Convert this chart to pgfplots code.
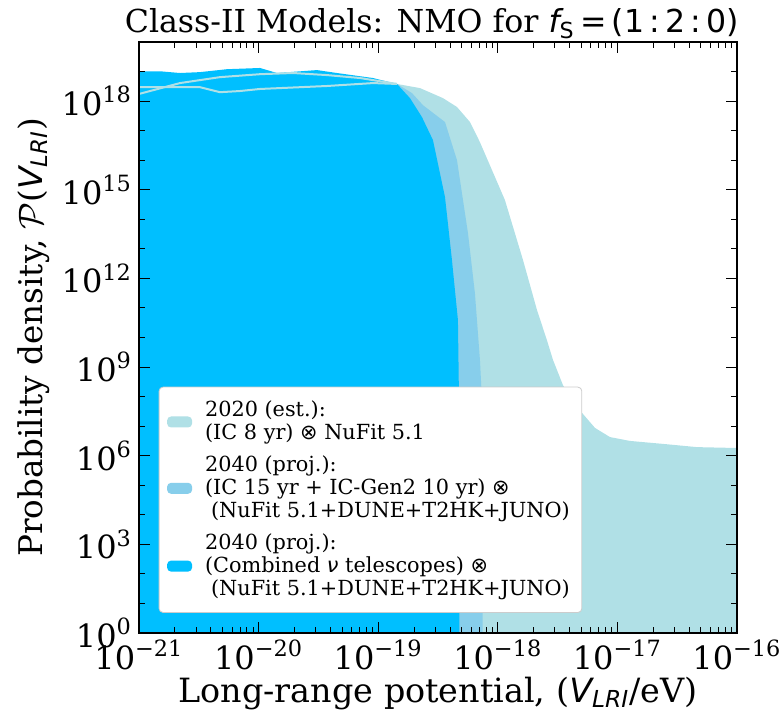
\documentclass[border=0pt]{standalone}
\usepackage{fontspec}
\setmainfont{DejaVu Serif}
\newfontfamily\djs{DejaVu Sans}
\usepackage{pgfplots}
\pgfplotsset{compat=1.18}
\definecolor{pb}{HTML}{B0E0E6}
\definecolor{sb}{HTML}{87CEEB}
\definecolor{dsb}{HTML}{00BFFF}
\begin{document}
\begin{tikzpicture}
\begin{axis}[
  width=299pt, height=295.5pt, scale only axis,
  xmode=log, ymode=log,
  xmin=1e-21, xmax=1e-16, ymin=1, ymax=1e20,
  axis on top,
  axis line style={line width=0.6pt},
  xtick={1e-21,1e-20,1e-19,1e-18,1e-17,1e-16},
  xticklabels={10\textsuperscript{−21},10\textsuperscript{−20},10\textsuperscript{−19},10\textsuperscript{−18},10\textsuperscript{−17},10\textsuperscript{−16}},
  minor xtick={2e-21,3e-21,4e-21,5e-21,6e-21,7e-21,8e-21,9e-21,
               2e-20,3e-20,4e-20,5e-20,6e-20,7e-20,8e-20,9e-20,
               2e-19,3e-19,4e-19,5e-19,6e-19,7e-19,8e-19,9e-19,
               2e-18,3e-18,4e-18,5e-18,6e-18,7e-18,8e-18,9e-18,
               2e-17,3e-17,4e-17,5e-17,6e-17,7e-17,8e-17,9e-17},
  ytick={1,1e3,1e6,1e9,1e12,1e15,1e18},
  yticklabels={10\textsuperscript{0},10\textsuperscript{3},10\textsuperscript{6},10\textsuperscript{9},10\textsuperscript{12},10\textsuperscript{15},10\textsuperscript{18}},
  minor ytick={10,100,1e4,1e5,1e7,1e8,1e10,1e11,1e13,1e14,1e16,1e17,1e19},
  tick align=inside,
  major tick length=5.5pt, minor tick length=2.8pt,
  every tick/.style={black, line width=0.5pt},
  tick label style={font=\fontsize{16}{16}\selectfont},
  xlabel style={font=\fontsize{16.7}{16.7}\selectfont, yshift=3pt},
  ylabel style={font=\fontsize{16.3}{16.3}\selectfont, yshift=-1pt},
  title style={font=\fontsize{15.8}{15.8}\selectfont, yshift=-8pt, xshift=-3pt},
  title={Class-II Models: NMO for {\djs\itshape f}\textsubscript{\djs S}{\djs\,=\,(1\,:\,2\,:\,0)}},
  xlabel={Long-range potential, ({\djs\itshape V\textsubscript{LRI}}/eV)},
  ylabel={Probability density, $\mathcal{P}$({\djs\itshape V\textsubscript{LRI}})},
  legend style={at={(0.033,0.034)}, anchor=south west, draw=black!20, rounded corners=2pt,
    fill=white, font=\fontsize{10.4}{11.5}\selectfont, inner xsep=4pt, inner ysep=5pt,
    row sep=2.5pt, cells={anchor=west, align=left}},
  legend image code/.code={\fill[#1] (0pt,-2.75pt) rectangle (12.5pt,2.75pt); \path (17pt,0pt);},
]
% 2020 (light)
\addplot[fill=pb, draw=none] coordinates {
(1e-21,1e-2) (1e-21,1.74e18) (2.203e-21,4.07e18) (4.753e-21,6.46e18) (1.028e-20,8.13e18)
(1.941e-20,8.91e18) (3.733e-20,7.59e18) (7.047e-20,6.03e18) (1.436e-19,3.80e18)
(2.239e-19,2.75e18) (3.483e-19,1.26e18) (4.560e-19,6.31e17) (5.861e-19,1.95e17)
(7.096e-19,4.07e16) (1.148e-18,4.47e14) (1.626e-18,4.17e12) (2.128e-18,8.51e10)
(2.576e-18,8.13e9) (2.897e-18,1.74e9) (3.508e-18,2.45e8) (4.018e-18,9.77e7)
(4.677e-18,4.07e7) (6.501e-18,8.71e6) (8.670e-18,4.27e6) (1.274e-17,3.16e6)
(2.404e-17,2.51e6) (4.634e-17,1.95e6) (1e-16,1.82e6) (1e-16,1e-2)
};
\addlegendentry{2020 (est.):\\(IC 8 yr) {\djs ⊗} NuFit 5.1}
% 2040 IC-Gen2 (mid)
\addplot[fill=sb, draw=none] coordinates {
(1e-21,1e-2) (1e-21,2.95e18) (3.236e-21,2.95e18) (4.753e-21,2.0e18) (6.982e-21,2.19e18)
(1.028e-20,2.57e18) (3.733e-20,3.24e18) (9.057e-20,4.07e18) (1.436e-19,3.80e18)
(1.919e-19,1.86e18) (2.371e-19,7.24e17) (3.622e-19,1.95e17) (4.560e-19,1e16)
(5.636e-19,3.39e13) (6.442e-19,3.16e11) (7.096e-19,1.74e9) (7.379e-19,7.59e7)
(7.516e-19,1e-2)
};
\addlegendentry{2040 (proj.):\\(IC 15 yr + IC-Gen2 10 yr) {\djs ⊗}\\\hspace*{3pt}(NuFit 5.1+DUNE+T2HK+JUNO)}
% 2040 combined (deep)
\addplot[fill=dsb, draw=none] coordinates {
(1e-21,1e-2) (1e-21,1.02e19) (1.500e-21,1.02e19) (2.203e-21,8.91e18) (3.236e-21,9.55e18)
(5.445e-21,1.20e19) (1.028e-20,1.32e19) (1.426e-20,8.91e18) (3.076e-20,1.12e19)
(4.529e-20,8.91e18) (9.057e-20,6.03e18) (1.436e-19,3.80e18) (1.845e-19,1.26e18)
(2.323e-19,2.88e17) (2.871e-19,4.79e16) (3.622e-19,5.62e14) (4.140e-19,4.17e12)
(4.645e-19,3.89e10) (4.742e-19,7.59e7) (4.786e-19,1e-2)
};
\addlegendentry{2040 (proj.):\\(Combined {\djs\itshape ν} telescopes) {\djs ⊗}\\\hspace*{3pt}(NuFit 5.1+DUNE+T2HK+JUNO)}
% outlines
\addplot[pb, line width=1pt, forget plot] coordinates {
(1e-21,1.74e18) (2.203e-21,4.07e18) (4.753e-21,6.46e18) (1.028e-20,8.13e18)
(1.941e-20,8.91e18) (3.733e-20,7.59e18) (7.047e-20,6.03e18) (1.436e-19,3.80e18)
};
\addplot[pb, line width=1pt, forget plot] coordinates {
(1e-21,2.95e18) (3.236e-21,2.95e18) (4.753e-21,2.0e18) (6.982e-21,2.19e18)
(1.028e-20,2.57e18) (3.733e-20,3.24e18) (9.057e-20,4.07e18) (1.436e-19,3.80e18)
};
\end{axis}
\pgfresetboundingbox
\path ([shift={(-69.5pt,-39.5pt)}]current axis.south west) rectangle ([shift={(23pt,21pt)}]current axis.north east);
\end{tikzpicture}
\end{document}
